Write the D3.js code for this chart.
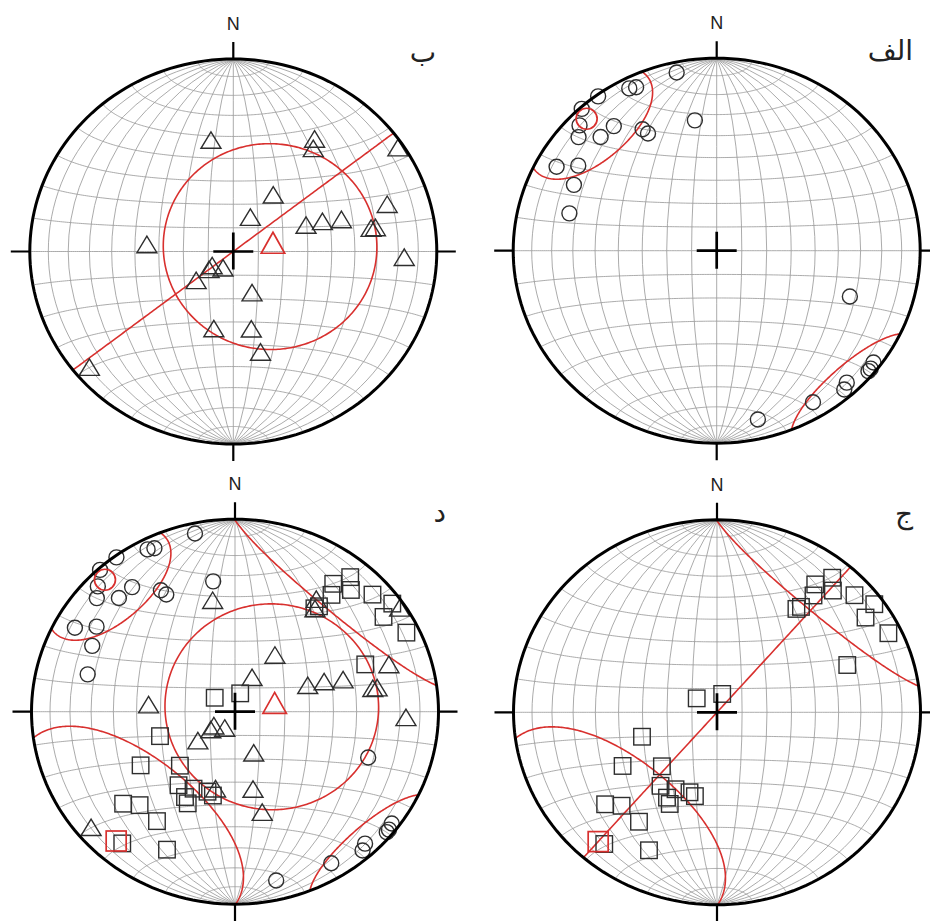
<!DOCTYPE html>
<html>
<head>
<meta charset="utf-8">
<script src="https://cdn.jsdelivr.net/npm/d3@7"></script>
<style>
  body { margin: 0; background: #fff; }
</style>
</head>
<body>
<div id="wrapper"></div>
<script>
const circlePoles = [
  [348, 6], [333, 6], [335, 7], [324, 1], [318, 1], [314, 7], [311, 11],
  [316, 19], [322, 19], [330, 28], [331, 31], [351, 32], [299, 11], [303, 20],
  [296, 23], [285, 26], [110, 31], [149, 9], [167, 11], [139, 5], [137, 7],
  [130, 3], [129, 3], [127, 4]
]
const trianglePoles = [
  [349, 42], [35, 31], [37, 35], [57, 4], [35, 62], [73, 22], [27, 75],
  [71, 59], [72, 52], [74, 44], [81, 32], [81, 30], [273, 55], [93, 17],
  [230, 79], [228, 77], [207, 81], [228, 70], [158, 70], [193, 55],
  [168, 55], [166, 44], [229, 7]
]
const squarePoles = [
  [39, 11], [36, 19], [42, 16], [38, 24], [48, 10], [37, 32], [36, 34],
  [54, 5], [56, 13], [64, 7], [69, 32], [239, 45], [224, 58], [216, 51],
  [207, 53], [209, 48], [206, 46], [198, 54], [194, 53], [229, 28],
  [224, 33], [214, 32], [219, 13], [205, 22], [251, 58], [306, 80], [15, 82]
]

// mean axis [trend, plunge] and cone half-angle of each set
const circleMean = [317, 7]
const circleCone = 22.5
const triangleMean = [82, 74]
const triangleCone = 44
const squareMean = [221, 12]
const squareCone = 42.6

// strike of the vertical planes drawn in ب and ج
const triangleGirdleStrike = 52
const squareGirdleStrike = 41

const panelLabels = ["ب", "الف", "د", "ج"]

const width = 930
const height = 921
const RX = 203.5
const RY = 192.5
const red = "#d8302e"
const ink = "#2e2e2e"

const layout = [
  { cx: 233.3, cy: 251.5, lx: 436, ly: 62, sets: ["tri"], girdle: triangleGirdleStrike },
  { cx: 716.7, cy: 250.7, lx: 913, ly: 60, sets: ["circ"], girdle: null },
  { cx: 235, cy: 711.7, lx: 446, ly: 522, sets: ["circ", "tri", "sq"], girdle: null },
  { cx: 717, cy: 712.3, lx: 913, ly: 523, sets: ["sq"], girdle: squareGirdleStrike },
]

const rad = Math.PI / 180
function toLonLat([trend, plunge]) {
  const t = trend * rad, p = plunge * rad
  const n = Math.cos(p) * Math.cos(t)
  const e = Math.cos(p) * Math.sin(t)
  const d = Math.sin(p)
  return [Math.atan2(e, d) / rad, Math.asin(Math.max(-1, Math.min(1, n))) / rad]
}
const antipode = ([trend, plunge]) => [trend + 180, -plunge]

function ringLine(center, radius) {
  const poly = d3.geoCircle().center(toLonLat(center)).radius(radius).precision(1)()
  return { type: "LineString", coordinates: poly.coordinates[0] }
}

const svg = d3.select("#wrapper")
  .append("svg")
  .attr("width", width)
  .attr("height", height)
  .style("background", "#fff")

layout.forEach((p, i) => {
  const proj = d3.geoAzimuthalEqualArea()
    .rotate([0, 0])
    .clipAngle(90)
    .scale(RX / Math.SQRT2)
    .translate([0, 0])
    .precision(0.2)
  const squash = d3.geoTransform({
    point(x, y) { this.stream.point(p.cx + x, p.cy + y * RY / RX) }
  })
  const path = d3.geoPath({ stream: s => proj.stream(squash.stream(s)) })
  const place = tp => {
    const [x, y] = proj(toLonLat(tp))
    return [p.cx + x, p.cy + y * RY / RX]
  }

  const g = svg.append("g")

  // net
  g.append("path")
    .datum(d3.geoGraticule().extent([[-180, -90], [180, 90]]).step([10, 10]).precision(1)())
    .attr("d", path)
    .attr("fill", "none")
    .attr("stroke", "#9c9c9c")
    .attr("stroke-width", 0.85)

  // red cones and planes
  const redLines = []
  if (p.sets.includes("circ")) {
    redLines.push(ringLine(circleMean, circleCone), ringLine(antipode(circleMean), circleCone))
  }
  if (p.sets.includes("tri")) {
    redLines.push(ringLine(triangleMean, triangleCone), ringLine(antipode(triangleMean), triangleCone))
  }
  if (p.sets.includes("sq")) {
    redLines.push(ringLine(squareMean, squareCone), ringLine(antipode(squareMean), squareCone))
  }
  if (p.girdle !== null) {
    redLines.push(ringLine([p.girdle + 90, 0], 90))
  }
  g.selectAll(".red")
    .data(redLines)
    .enter().append("path")
    .attr("d", path)
    .attr("fill", "none")
    .attr("stroke", red)
    .attr("stroke-width", 1.6)

  // markers
  const triPath = (w, h) => `M0,${-h * 2 / 3}L${w / 2},${h / 3}L${-w / 2},${h / 3}Z`
  if (p.sets.includes("circ")) {
    g.selectAll(".circ").data(circlePoles).enter().append("circle")
      .attr("cx", d => place(d)[0]).attr("cy", d => place(d)[1])
      .attr("r", 7.5)
      .attr("fill", "none").attr("stroke", ink).attr("stroke-width", 1.4)
    const m = place(circleMean)
    g.append("circle").attr("cx", m[0]).attr("cy", m[1]).attr("r", 10.5)
      .attr("fill", "none").attr("stroke", red).attr("stroke-width", 1.7)
  }
  if (p.sets.includes("tri")) {
    g.selectAll(".tri").data(trianglePoles).enter().append("path")
      .attr("transform", d => `translate(${place(d)})`)
      .attr("d", triPath(20, 16.5))
      .attr("fill", "none").attr("stroke", ink).attr("stroke-width", 1.4)
    g.append("path")
      .attr("transform", `translate(${place(triangleMean)})`)
      .attr("d", triPath(23.5, 21))
      .attr("fill", "none").attr("stroke", red).attr("stroke-width", 1.7)
  }
  if (p.sets.includes("sq")) {
    g.selectAll(".sq").data(squarePoles).enter().append("rect")
      .attr("x", d => place(d)[0] - 8.25).attr("y", d => place(d)[1] - 8.25)
      .attr("width", 16.5).attr("height", 16.5)
      .attr("fill", "none").attr("stroke", ink).attr("stroke-width", 1.4)
    const m = place(squareMean)
    g.append("rect").attr("x", m[0] - 10).attr("y", m[1] - 10)
      .attr("width", 20).attr("height", 20)
      .attr("fill", "none").attr("stroke", red).attr("stroke-width", 1.7)
  }

  // primitive
  g.append("path")
    .datum({ type: "Sphere" })
    .attr("d", path)
    .attr("fill", "none")
    .attr("stroke", "#000")
    .attr("stroke-width", 3)

  // centre cross
  g.append("path")
    .attr("d", `M${p.cx - 20},${p.cy}H${p.cx + 20}M${p.cx},${p.cy - 19}V${p.cy + 18}`)
    .attr("stroke", "#000").attr("stroke-width", 2.7)

  // compass ticks
  const nPt = place([0, 0]), ePt = place([90, 0]), sPt = place([180, 0]), wPt = place([270, 0])
  g.append("path")
    .attr("d", `M${nPt[0]},${nPt[1]}V${nPt[1] - 17}` +
      `M${sPt[0]},${sPt[1]}V${sPt[1] + 17}` +
      `M${ePt[0]},${ePt[1]}H${ePt[0] + 19}` +
      `M${wPt[0]},${wPt[1]}H${wPt[0] - 19}`)
    .attr("stroke", "#000").attr("stroke-width", 2.2)

  g.append("text")
    .attr("x", nPt[0]).attr("y", nPt[1] - 29)
    .attr("text-anchor", "middle")
    .attr("font-family", "Liberation Sans, Arial, sans-serif")
    .attr("font-size", 18)
    .attr("fill", "#222")
    .text("N")

  g.append("text")
    .attr("x", p.lx).attr("y", p.ly)
    .attr("text-anchor", "end")
    .attr("font-family", "DejaVu Sans, sans-serif")
    .attr("font-size", 28)
    .attr("fill", "#222")
    .text(panelLabels[i])
})
</script>
</body>
</html>
